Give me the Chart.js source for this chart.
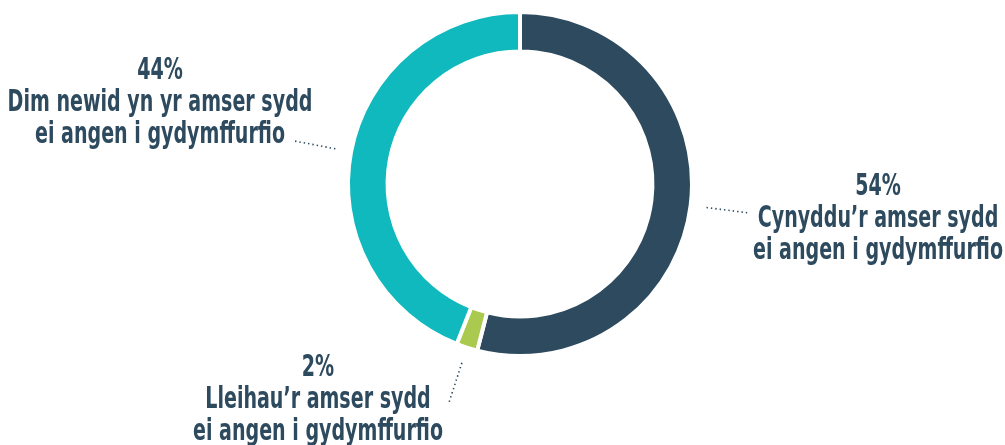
<!DOCTYPE html>
<html>
<head>
<meta charset="utf-8">
<script src="https://cdn.jsdelivr.net/npm/chart.js@4"></script>
<style>
  html, body { margin: 0; padding: 0; background: #fff; }
  #wrap { width: 1005px; height: 445px; }
</style>
</head>
<body>
<div id="wrap"><canvas id="donut" width="1005" height="445"></canvas></div>
<script>
// data
const categories = [
  ["Cynyddu’r amser sydd", "ei angen i gydymffurfio"],
  ["Lleihau’r amser sydd", "ei angen i gydymffurfio"],
  ["Dim newid yn yr amser sydd", "ei angen i gydymffurfio"]
];
const percentages = [54, 2, 44];
const sliceColors = ["#2e4a5f", "#a9ca4f", "#10b9bd"];

const textColor = "#2d4a5e";
// where each label block sits (centre x, baseline of first line)
const labelSpots = [
  { x: 878, y: 195 },
  { x: 318, y: 376 },
  { x: 160, y: 79 }
];

// dotted leader lines + label text
const calloutPlugin = {
  id: "callouts",
  afterDatasetsDraw(chart) {
    const ctx = chart.ctx;
    const arcs = chart.getDatasetMeta(0).data;
    ctx.save();
    ctx.font = "bold 30px 'Liberation Sans Narrow', 'DejaVu Sans Condensed', sans-serif";
    const squeeze = Math.min(1, 250 / ctx.measureText("ei angen i gydymffurfio").width);

    arcs.forEach((arc, i) => {
      const p = arc.getProps(["x", "y", "startAngle", "endAngle", "outerRadius"], true);
      const mid = (p.startAngle + p.endAngle) / 2;
      const r1 = p.outerRadius + 16;
      const r2 = p.outerRadius + 59;

      ctx.strokeStyle = textColor;
      ctx.lineWidth = 1.6;
      ctx.setLineDash([1.4, 3]);
      ctx.beginPath();
      ctx.moveTo(p.x + Math.cos(mid) * r1, p.y + Math.sin(mid) * r1);
      ctx.lineTo(p.x + Math.cos(mid) * r2, p.y + Math.sin(mid) * r2);
      ctx.stroke();
      ctx.setLineDash([]);

      const spot = labelSpots[i];
      const lines = [percentages[i] + "%"].concat(categories[i]);
      ctx.fillStyle = textColor;
      ctx.textAlign = "center";
      ctx.textBaseline = "alphabetic";
      lines.forEach((txt, k) => {
        ctx.save();
        ctx.translate(spot.x, spot.y + k * 32);
        ctx.scale(squeeze, 1);
        ctx.fillText(txt, 0, 0);
        ctx.restore();
      });
    });
    ctx.restore();
  }
};

const chart = new Chart(document.getElementById("donut"), {
  type: "doughnut",
  data: {
    labels: categories.map(c => c.join(" ")),
    datasets: [{
      data: percentages,
      backgroundColor: sliceColors,
      borderColor: "#ffffff",
      borderWidth: 4,
      hoverOffset: 0
    }]
  },
  options: {
    responsive: false,
    animation: false,
    cutout: "77%",
    layout: { padding: { top: 10, bottom: 87, left: 40, right: 5 } },
    plugins: {
      legend: { display: false },
      tooltip: { enabled: false }
    }
  },
  plugins: [calloutPlugin]
});
</script>
</body>
</html>
